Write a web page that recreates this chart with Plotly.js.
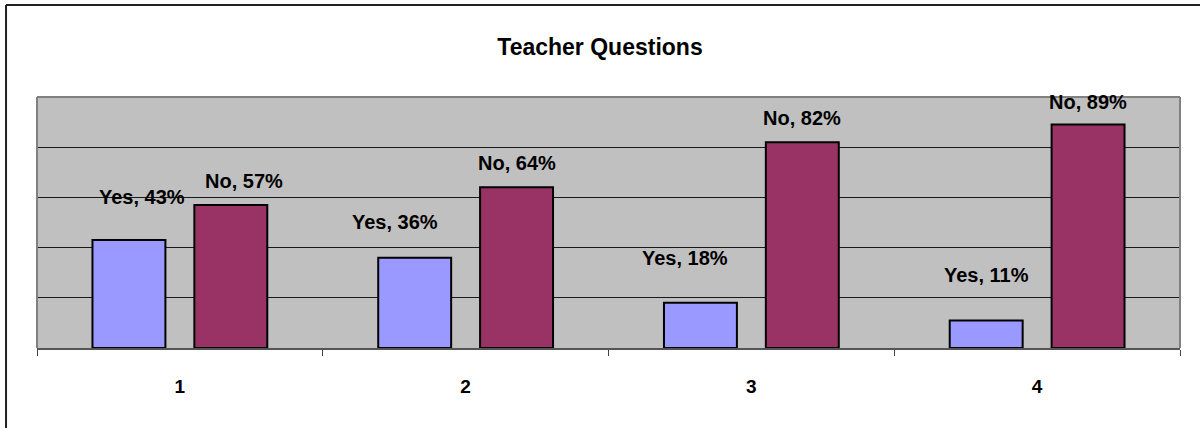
<!DOCTYPE html>
<html>
<head>
<meta charset="utf-8">
<script src="https://cdn.plot.ly/plotly-3.0.1.min.js"></script>
<style>html,body{margin:0;padding:0;background:#fff;overflow:hidden}#chart{width:1200px;height:428px}</style>
</head>
<body>
<div id="chart"></div>
<script>
// ---- data ----
const categories = ['1', '2', '3', '4'];
const yesValues = [43, 36, 18, 11];
const noValues = [57, 64, 82, 89];
const yesName = 'Yes';
const noName = 'No';
const chartTitle = 'Teacher Questions';

// ---- label placement (style, not data) ----
const yesLabelDx = [13, -20, -15, 0];
const yesLabelDy = [43, 36, 45, 45];
const noLabelDx = [13, 0, 0, 0];
const noLabelDy = [24, 24, 24, 23];

const FONT = 'Arial, "Liberation Sans", sans-serif';
const slot = 0.357;

const traces = [
  {type: 'bar', name: yesName, x: categories, y: yesValues,
   marker: {color: '#9999FF', line: {color: '#000', width: 2}}, hoverinfo: 'none'},
  {type: 'bar', name: noName, x: categories, y: noValues,
   marker: {color: '#993366', line: {color: '#000', width: 2}}, hoverinfo: 'none'}
];

const annotations = [];
categories.forEach((c, i) => {
  annotations.push({x: i - slot / 2, y: yesValues[i], xref: 'x', yref: 'y',
    text: yesName + ', ' + yesValues[i] + '%', showarrow: false,
    xshift: yesLabelDx[i], yshift: yesLabelDy[i], yanchor: 'middle',
    font: {family: FONT, size: 20, color: '#000', weight: 'bold'}});
  annotations.push({x: i + slot / 2, y: noValues[i], xref: 'x', yref: 'y',
    text: noName + ', ' + noValues[i] + '%', showarrow: false,
    xshift: noLabelDx[i], yshift: noLabelDy[i], yanchor: 'middle',
    font: {family: FONT, size: 20, color: '#000', weight: 'bold'}});
});

const layout = {
  width: 1200, height: 428,
  margin: {l: 37, r: 20, t: 97, b: 80},
  paper_bgcolor: '#fff', plot_bgcolor: '#C0C0C0',
  showlegend: false,
  barmode: 'group', bargap: 0.287, bargroupgap: 0.284,
  title: {text: '<b>' + chartTitle + '</b>', x: 0.5, xanchor: 'center',
    y: 1 - 47 / 428, yanchor: 'middle', yref: 'container',
    font: {family: FONT, size: 23, color: '#000'}},
  xaxis: {type: 'category', tickson: 'boundaries', ticks: 'outside', ticklen: 6,
    tickcolor: '#444', tickwidth: 1, showline: true, linecolor: '#555', linewidth: 2,
    showgrid: false, ticklabelstandoff: 20,
    tickfont: {family: FONT, size: 19, color: '#000', weight: 'bold'}},
  yaxis: {range: [0, 100], tickvals: [20, 40, 60, 80], showticklabels: false,
    showgrid: true, gridcolor: '#1a1a1a', gridwidth: 1, zeroline: false,
    showline: false, ticks: ''},
  annotations: annotations,
  shapes: [
    {type: 'line', xref: 'paper', yref: 'paper', x0: 0, x1: 1, y0: 1, y1: 1, line: {color: '#808080', width: 2}},
    {type: 'line', xref: 'paper', yref: 'paper', x0: 0, x1: 0, y0: 0, y1: 1, line: {color: '#808080', width: 2}},
    {type: 'line', xref: 'paper', yref: 'paper', x0: 1, x1: 1, y0: 0, y1: 1, line: {color: '#808080', width: 2}},
    {type: 'line', xref: 'paper', yref: 'paper', x0: -0.0271, x1: 1.1, y0: 1.3665, y1: 1.3665,
     line: {color: '#222', width: 2}},
    {type: 'line', xref: 'paper', yref: 'paper', x0: -0.0271, x1: -0.0271, y0: -0.5, y1: 1.3665,
     line: {color: '#222', width: 2}}
  ]
};

Plotly.newPlot('chart', traces, layout, {staticPlot: true, displayModeBar: false});
</script>
</body>
</html>
